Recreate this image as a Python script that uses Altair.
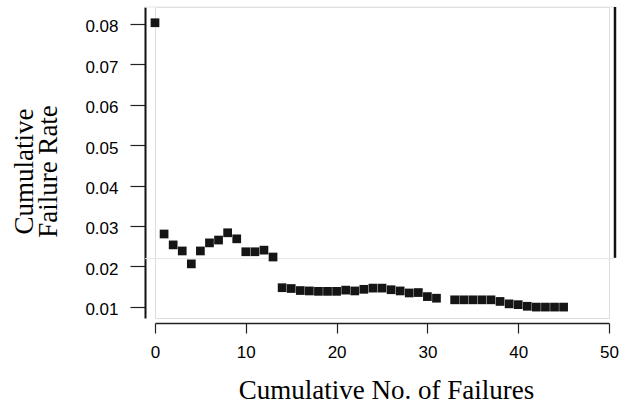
import altair as alt
import pandas as pd

# Cumulative number of failures and cumulative failure rate
failures = [0, 1, 2, 3, 4, 5, 6, 7, 8, 9, 10, 11, 12, 13, 14, 15, 16, 17, 18, 19,
            20, 21, 22, 23, 24, 25, 26, 27, 28, 29, 30, 31,
            33, 34, 35, 36, 37, 38, 39, 40, 41, 42, 43, 44, 45]
rates = [0.0803, 0.0280, 0.0253, 0.0238, 0.0206, 0.0238, 0.0258, 0.0265, 0.0283, 0.0268,
         0.0236, 0.0236, 0.0240, 0.0223, 0.0147, 0.0145, 0.0140, 0.0139, 0.0138, 0.0138,
         0.0138, 0.0141, 0.0139, 0.0143, 0.0146, 0.0146, 0.0142, 0.0139, 0.0134, 0.0135,
         0.0125, 0.0121,
         0.0117, 0.0117, 0.0117, 0.0117, 0.0117, 0.0113, 0.0107, 0.0105, 0.0101, 0.0099,
         0.0099, 0.0099, 0.0099]

x_ticks = [0, 10, 20, 30, 40, 50]
y_ticks = [0.01, 0.02, 0.03, 0.04, 0.05, 0.06, 0.07, 0.08]

df = pd.DataFrame({"n": failures, "rate": rates})

W, H = 454, 311
xscale = alt.Scale(domain=[0, 50], nice=False, zero=False)
yscale = alt.Scale(domain=[0.0072, 0.0842], nice=False, zero=False)

points = alt.Chart(df).mark_point(
    shape="square", filled=True, size=76, color="#151515", opacity=1, clip=False
).encode(
    x=alt.X("n:Q", scale=xscale, axis=alt.Axis(
        values=x_ticks, title="Cumulative No. of  Failures", grid=False,
        offset=5, tickSize=10, tickColor="#222", tickWidth=1.2,
        domainColor="#222", domainWidth=1.5,
        labelFont="Liberation Sans", labelFontSize=17, labelColor="#000",
        labelPadding=11, labelFlush=False,
        titleFont="Liberation Serif", titleFontSize=27, titleFontWeight="normal",
        titleColor="#000", titleX=231, titleY=75, titleBaseline="alphabetic",
        titleAnchor="middle", titleAlign="center")),
    y=alt.Y("rate:Q", scale=yscale, axis=alt.Axis(
        values=y_ticks, format=".2f", title=["Cumulative", "Failure Rate"], grid=False,
        offset=10, tickSize=15, tickColor="#222", tickWidth=1.2,
        domainColor="#111", domainWidth=2,
        labelFont="Liberation Sans", labelFontSize=17, labelColor="#000",
        labelPadding=12, labelOffset=3, labelFlush=False,
        titleFont="Liberation Serif", titleFontSize=27, titleFontWeight="normal",
        titleColor="#000", titleLineHeight=24, titleAngle=-90,
        titleX=-121, titleY=164, titleBaseline="middle", titleAlign="center")),
)

# right frame line and faint scan box lines
right_line = alt.Chart(pd.DataFrame({"x": [50.66], "y": [0.0842], "y2": [0.0221]})).mark_rule(
    color="#111", strokeWidth=2.5, clip=False
).encode(x=alt.X("x:Q", scale=xscale), y=alt.Y("y:Q", scale=yscale), y2="y2:Q")

faint = alt.Chart(pd.DataFrame({"x": [-1.1, -1.1], "x2": [50.66, 50.66], "y": [0.0842, 0.0219]})).mark_rule(
    color="#e6e6e6", strokeWidth=1, clip=False
).encode(x=alt.X("x:Q", scale=xscale), x2="x2:Q", y=alt.Y("y:Q", scale=yscale))

chart = alt.layer(faint, right_line, points).properties(
    width=W, height=H,
    autosize=alt.AutoSizeParams(type="none"),
    padding={"left": 155, "top": 7, "right": 17, "bottom": 88},
).configure_view(stroke=None).configure(background="white")

chart.save("out.html", embed_options={"renderer": "svg", "actions": False})
